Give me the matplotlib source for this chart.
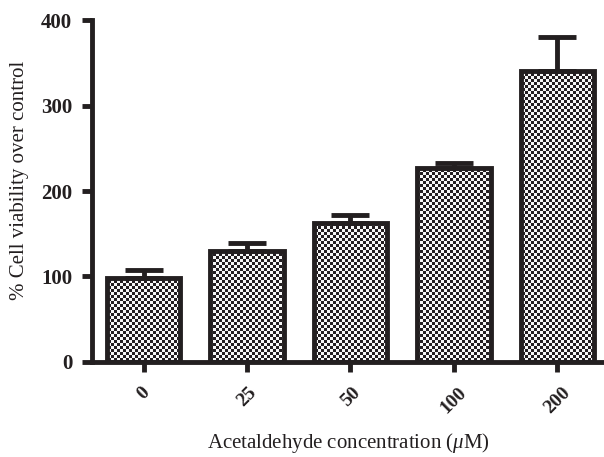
import matplotlib
matplotlib.use("Agg")
import matplotlib.pyplot as plt
import numpy as np

conc = ["0", "25", "50", "100", "200"]
viability = [98, 130, 163, 227, 341]
err = [10, 9, 9, 6, 39]

plt.rcParams['font.family'] = ['Liberation Serif', 'DejaVu Serif']
plt.rcParams['mathtext.fontset'] = 'custom'
plt.rcParams['mathtext.it'] = 'Liberation Serif:italic'

W, H = 604, 457
fig = plt.figure(figsize=(W / 100, H / 100), dpi=100)
ax = fig.add_axes([0.152, 0.208, 0.848, 0.748])
ax.patch.set_alpha(0)

x = np.arange(len(conc))
bars = ax.bar(x, viability, width=0.71, color='none', edgecolor='#231f20',
              linewidth=3.5, zorder=3)
ax.errorbar(x, viability, yerr=[np.zeros(len(err)), err], fmt='none',
            ecolor='#231f20', elinewidth=3.5, capsize=14, capthick=3.5, zorder=2)

# pixel-aligned checkerboard behind the axes, clipped to each bar
cell = 3
yy, xx = np.indices((H, W))
checker = ((yy // cell + xx // cell) % 2).astype(float)
rgb = np.where(checker[..., None] > 0, [0.97, 0.97, 0.97], [0.14, 0.12, 0.13])
for b in bars:
    im = fig.figimage(rgb, xo=0, yo=0, origin='lower', zorder=-1)
    im.set_clip_path(b)

ax.set_xlim(-0.5, 4.45)
ax.set_ylim(0, 400)
ax.set_yticks([0, 100, 200, 300, 400])
ax.set_xticks(x)
ax.set_xticklabels(conc, rotation=45, fontweight='bold', fontsize=14)
for lab in ax.get_yticklabels():
    lab.set_fontweight('bold')
    lab.set_fontsize(15)

for s in ['top', 'right']:
    ax.spines[s].set_visible(False)
for s in ['left', 'bottom']:
    ax.spines[s].set_linewidth(3.5)
    ax.spines[s].set_color('#231f20')
ax.tick_params(width=3.5, length=7, color='#231f20', labelcolor='#231f20')
ax.tick_params(axis='x', pad=9)
ax.tick_params(axis='y', pad=7)

ax.set_ylabel('% Cell viability over control', fontsize=15, color='#231f20', labelpad=8)
ax.yaxis.set_label_coords(-0.123, 0.53)
ax.set_xlabel(r'Acetaldehyde concentration ($\mu$M)', fontsize=15, color='#231f20', labelpad=10)

fig.savefig("out.png", dpi=100)
